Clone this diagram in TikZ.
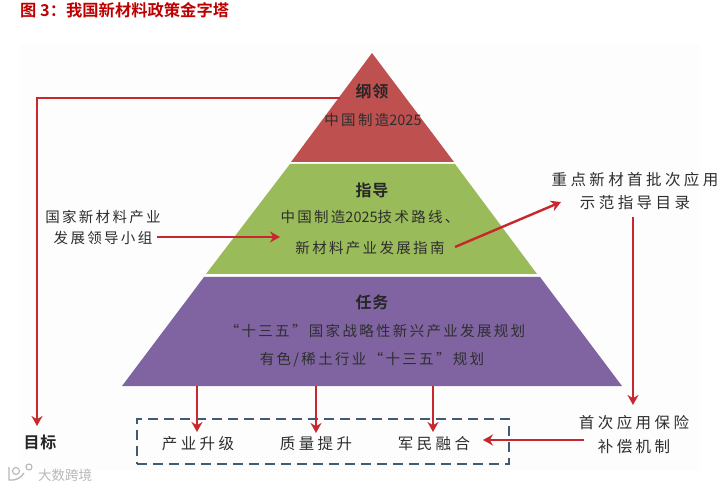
\documentclass[tikz,border=0pt]{standalone}
\usepackage{fontspec}
\usetikzlibrary{arrows.meta}
\newfontfamily\cjk[LetterSpace=16]{Noto Sans CJK SC}
\newfontfamily\cjkw[LetterSpace=22]{Noto Sans CJK SC}
\newfontfamily\cjkn{Noto Sans CJK SC}
\newfontfamily\cjkb[LetterSpace=6]{Noto Sans CJK SC Bold}
\newfontfamily\cjkt{Noto Sans CJK SC Bold}
\definecolor{redtier}{HTML}{BE5050}
\definecolor{greentier}{HTML}{9ABB59}
\definecolor{purpletier}{HTML}{8064A2}
\definecolor{arrowred}{HTML}{C8282D}
\definecolor{boxblue}{HTML}{3F5A73}
\definecolor{inktext}{HTML}{2E2E2E}
\definecolor{panel}{HTML}{FDFDFD}
\tikzset{
  x=1pt,y=-1pt,
  label/.style={font=\fontsize{14.5}{17}\selectfont\cjk,text=inktext,inner sep=0pt,align=center},
  widelabel/.style={font=\fontsize{15.5}{18}\selectfont\cjkw,text=inktext,inner sep=0pt,align=center},
  head/.style={font=\fontsize{16}{19}\selectfont\cjkb,text=black!85,inner sep=0pt},
  conn/.style={draw=arrowred,line width=2.4pt,-{Stealth[length=10pt,width=11pt]}}
}
\begin{document}
\begin{tikzpicture}
\useasboundingbox (0,0) rectangle (726,489);
\fill[white] (0,0) rectangle (726,489);
\fill[panel] (20,45) rectangle (700,470);
\node[font=\fontsize{16.3}{19}\selectfont\cjkt,text=red!75!black,anchor=west,inner sep=0pt] (title) at (20,10) {图 3：我国新材料政策金字塔};
% pyramid
\fill[redtier] (372,53) -- (454,162) -- (291,162) -- cycle;
\fill[greentier] (290,164) -- (455,164) -- (537,274) -- (206,274) -- cycle;
\fill[purpletier] (204,277) -- (540,277) -- (622,386) -- (122,386) -- cycle;
% labels
\node[head] (gl) at (372,91) {纲领};
\node[label] (gl2) at (373,120) {中国制造{\cjkn 2025}};
\node[head] (zd) at (372,190) {指导};
\node[label] (zd2) at (370,217) {中国制造{\cjkn 2025}技术路线、};
\node[label] (zd3) at (370,248) {新材料产业发展指南};
\node[head] (rw) at (372,302) {任务};
\node[label] (rw2) at (375,331) {“十三五”国家战略性新兴产业发展规划};
\node[label] (rw3) at (372,360) {有色/稀土行业“十三五”规划};
\node[label] (lead1) at (103,217) {国家新材料产业};
\node[label] (lead2) at (103,238) {发展领导小组};
\node[widelabel] (cat1) at (635,180) {重点新材首批次应用};
\node[widelabel] (cat2) at (635,203) {示范指导目录};
\node[widelabel] (ins1) at (634,423) {首次应用保险};
\node[widelabel] (ins2) at (634,447) {补偿机制};
\node[head] (goal) at (40,442) {目标};
\node[widelabel] (g1) at (198,444) {产业升级};
\node[widelabel] (g2) at (316,444) {质量提升};
\node[widelabel] (g3) at (434,444) {军民融合};
\node[font=\fontsize{13.5}{16}\selectfont\cjkn,text=black!28,anchor=west,inner sep=0pt] (wm) at (38,475) {大数跨境};
\draw[black!28,line width=1.3pt] (9,467) -- (9,480) .. controls (15,481) and (21,478) .. (24,473);
\draw[black!28,line width=1.1pt] (16,471) circle (3.5);
\draw[black!28,line width=1.1pt] (29,467) circle (3);
% dashed box
\node[draw=boxblue,line width=2pt,dash pattern=on 10pt off 6pt,minimum width=372pt,minimum height=45pt,anchor=north west,inner sep=0pt] (box) at (136,418) {};
% connector anchors
\coordinate (a1) at (340,98);
\coordinate (a2) at (37,98);
\coordinate (a3) at (37,426);
\coordinate (b1) at (157,237);
\coordinate (b2) at (280,237);
\coordinate (c1) at (455,247);
\coordinate (c2) at (561,202);
\coordinate (d1) at (633,217);
\coordinate (d2) at (633,405);
\coordinate (e1) at (584,440);
\coordinate (e2) at (483,440);
\coordinate (f1) at (197,386);
\coordinate (f2) at (197,432);
\coordinate (g1a) at (316,386);
\coordinate (g2a) at (316,433);
\coordinate (h1) at (433,386);
\coordinate (h2) at (433,432);
% connectors
\draw[conn] (a1) -- (a2) -- (a3);
\draw[conn] (b1) -- (b2);
\draw[conn] (c1) -- (c2);
\draw[conn] (d1) -- (d2);
\draw[conn] (e1) -- (e2);
\draw[conn] (f1) -- (f2);
\draw[conn] (g1a) -- (g2a);
\draw[conn] (h1) -- (h2);
\end{tikzpicture}
\end{document}
